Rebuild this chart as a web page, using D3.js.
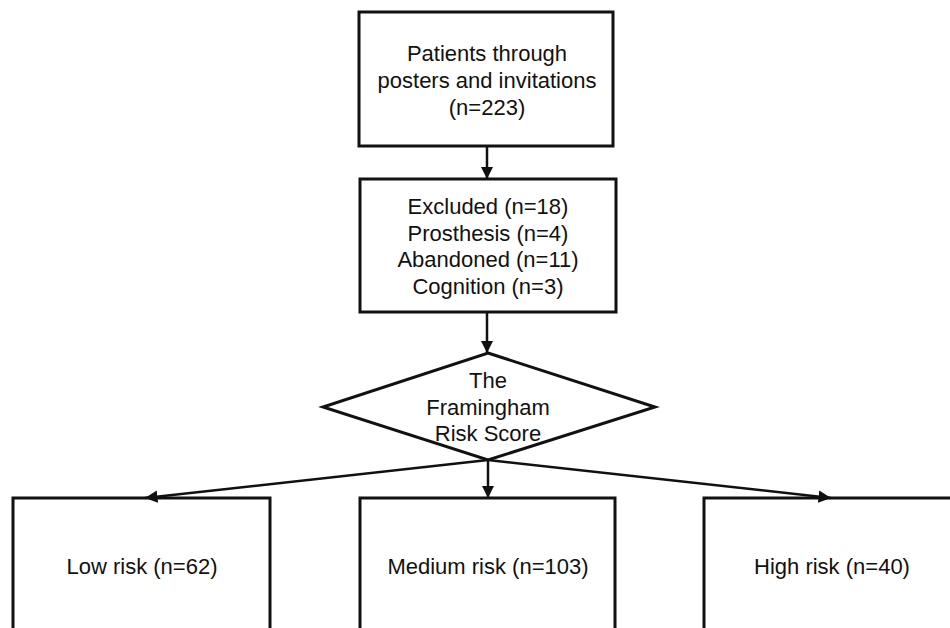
<!doctype html>
<html lang="en">
<head>
<meta charset="utf-8">
<title>Framingham flowchart</title>
<script src="https://cdn.jsdelivr.net/npm/d3@7"></script>
<style>
body { margin: 0; background: #fff; }
text { font-family: "Liberation Sans", Arial, sans-serif; fill: #111; }
</style>
</head>
<body>
<div id="chart"></div>
<script>

var width = 950;
var height = 628;

// data
var enrolledLines = ["Patients through", "posters and invitations"];
var enrolledN = 223;
var excludedN = 18;
var excludedReasons = ["Prosthesis", "Abandoned", "Cognition"];
var excludedCounts = [4, 11, 3];
var decisionLines = ["The", "Framingham", "Risk Score"];
var riskGroups = ["Low risk", "Medium risk", "High risk"];
var riskCounts = [62, 103, 40];

var svg = d3.select("#chart").append("svg")
    .attr("width", width)
    .attr("height", height);

svg.append("defs").append("marker")
    .attr("id", "arrow")
    .attr("viewBox", "0 0 10 10")
    .attr("refX", 10)
    .attr("refY", 5)
    .attr("markerWidth", 5)
    .attr("markerHeight", 5)
    .attr("markerUnits", "strokeWidth")
    .attr("orient", "auto")
  .append("path")
    .attr("d", "M0,0L10,5L0,10z")
    .attr("fill", "#111");

var cx = 487;
var fontSize = 22;

// arrow tip / label x of the three outcome boxes
var xRisk = d3.scalePoint()
    .domain(riskGroups)
    .range([145, 831]);

function box(x0, y0, w, h) {
    svg.append("rect")
        .attr("x", x0).attr("y", y0)
        .attr("width", w).attr("height", h)
        .attr("fill", "#fff")
        .attr("stroke", "#111")
        .attr("stroke-width", 3);
}

function lines(arr, x, y0, dy) {
    svg.append("g").selectAll("text")
        .data(arr)
        .enter().append("text")
        .attr("x", x)
        .attr("y", function(d, i) { return y0 + i * dy; })
        .attr("text-anchor", "middle")
        .attr("font-size", fontSize)
        .text(function(d) { return d; });
}

function arrow(x1, y1, x2, y2) {
    svg.append("line")
        .attr("x1", x1).attr("y1", y1)
        .attr("x2", x2).attr("y2", y2)
        .attr("stroke", "#111")
        .attr("stroke-width", 2.5)
        .attr("marker-end", "url(#arrow)");
}

// top box
box(359, 12, 254, 134);
lines(enrolledLines.concat(["(n=" + enrolledN + ")"]), cx, 61, 27);

arrow(cx, 146, cx, 179);

// exclusion box
box(360, 179, 256, 133);
var exclText = ["Excluded (n=" + excludedN + ")"].concat(excludedReasons.map(function(r, i) {
    return r + " (n=" + excludedCounts[i] + ")";
}));
lines(exclText, cx + 1, 214, 26.5);

arrow(cx, 312, cx, 353);

// decision diamond
var dTop = 353, dBot = 460, dLeft = 323, dRight = 655, dMid = 407;
svg.append("path")
    .attr("d", "M" + (cx + 1) + "," + dTop + "L" + dRight + "," + dMid +
        "L" + (cx + 1) + "," + dBot + "L" + dLeft + "," + dMid + "Z")
    .attr("fill", "none")
    .attr("stroke", "#111")
    .attr("stroke-width", 3);
lines(decisionLines, cx + 1, 388, 26.5);

// outcome boxes
var boxTop = 498;
var boxLeftOffset = [132, 128, 127];
var boxW = [257, 255, 260];
var labelShift = [-3, 0, 1];
riskGroups.forEach(function(g, i) {
    var x = xRisk(g);
    box(x - boxLeftOffset[i], boxTop, boxW[i], 200);
    arrow(cx + 1, dBot, x, boxTop);
    lines([g + " (n=" + riskCounts[i] + ")"], x + labelShift[i], 574, 0);
});

</script>
</body>
</html>
